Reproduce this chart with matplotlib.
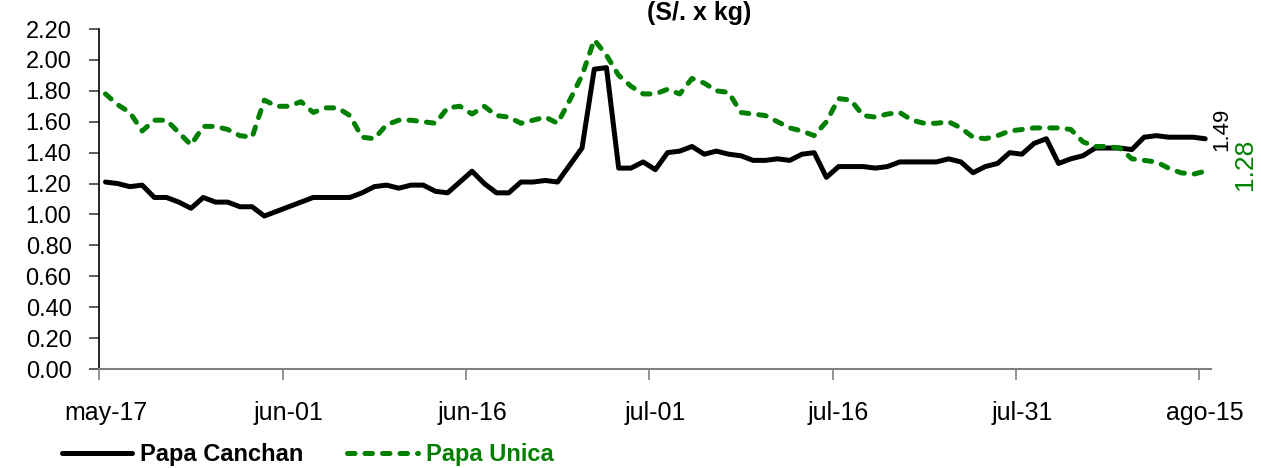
import numpy as np
import matplotlib
matplotlib.use('Agg')
import matplotlib.pyplot as plt

plt.rcParams['font.family'] = ['Liberation Sans', 'DejaVu Sans']

# daily prices, may-17 to ago-15
canchan = [1.21, 1.20, 1.18, 1.19, 1.11, 1.11, 1.08, 1.04, 1.11, 1.08,
           1.08, 1.05, 1.05, 0.99, 1.02, 1.05, 1.08, 1.11, 1.11, 1.11,
           1.11, 1.14, 1.18, 1.19, 1.17, 1.19, 1.19, 1.15, 1.14, 1.21,
           1.28, 1.20, 1.14, 1.14, 1.21, 1.21, 1.22, 1.21, 1.32, 1.43,
           1.94, 1.95, 1.30, 1.30, 1.34, 1.29, 1.40, 1.41, 1.44, 1.39,
           1.41, 1.39, 1.38, 1.35, 1.35, 1.36, 1.35, 1.39, 1.40, 1.24,
           1.31, 1.31, 1.31, 1.30, 1.31, 1.34, 1.34, 1.34, 1.34, 1.36,
           1.34, 1.27, 1.31, 1.33, 1.40, 1.39, 1.46, 1.49, 1.33, 1.36,
           1.38, 1.43, 1.43, 1.43, 1.42, 1.50, 1.51, 1.50, 1.50, 1.50,
           1.49]
unica = [1.78, 1.71, 1.66, 1.54, 1.61, 1.61, 1.53, 1.45, 1.57, 1.57,
         1.55, 1.51, 1.50, 1.74, 1.70, 1.70, 1.73, 1.66, 1.69, 1.69,
         1.64, 1.50, 1.49, 1.58, 1.61, 1.61, 1.60, 1.59, 1.69, 1.70,
         1.65, 1.70, 1.64, 1.63, 1.59, 1.61, 1.63, 1.59, 1.74, 1.90,
         2.13, 2.03, 1.90, 1.83, 1.78, 1.78, 1.81, 1.78, 1.88, 1.85,
         1.80, 1.79, 1.66, 1.65, 1.64, 1.60, 1.56, 1.54, 1.51, 1.60,
         1.75, 1.74, 1.64, 1.63, 1.65, 1.66, 1.61, 1.59, 1.59, 1.60,
         1.56, 1.50, 1.49, 1.51, 1.54, 1.55, 1.56, 1.56, 1.56, 1.55,
         1.47, 1.44, 1.44, 1.43, 1.36, 1.35, 1.34, 1.30, 1.27, 1.26,
         1.28]
date_labels = ['may-17', 'jun-01', 'jun-16', 'jul-01', 'jul-16', 'jul-31', 'ago-15']
label_step = 15

days = np.arange(len(canchan))
green = '#008000'

fig = plt.figure(figsize=(12.61, 4.68), dpi=100)
ax = fig.add_axes([0.0788, 0.2115, 0.8818, 0.7265])

ax.plot(days, canchan, color='black', lw=3.6, solid_joinstyle='round',
        solid_capstyle='round', label='Papa Canchan')
ax.plot(days, unica, color=green, lw=3.6, linestyle=(0, (1.5, 2.0)),
        dash_capstyle='round', dash_joinstyle='round', label='Papa Unica')

ax.set_xlim(-0.5, len(days) - 0.5)
ax.set_ylim(0, 2.2)
ax.set_yticks(np.arange(0, 2.21, 0.2))
ax.set_yticklabels(['%.2f' % v for v in np.arange(0, 2.21, 0.2)], fontsize=17)
ax.tick_params(axis='y', length=7, width=1.2, color='#404040', pad=13)

# tick marks between days, labels on the days
pos = np.arange(len(date_labels)) * label_step
ax.set_xticks(pos - 0.5)
ax.set_xticklabels([])
ax.set_xticks(pos, minor=True)
ax.set_xticklabels(date_labels, minor=True, fontsize=18)
ax.tick_params(axis='x', which='major', length=8, width=1.2, color='#808080')
ax.tick_params(axis='x', which='minor', length=0, pad=23)

for s in ['top', 'right']:
    ax.spines[s].set_visible(False)
ax.spines['left'].set_color('black')
ax.spines['left'].set_linewidth(1.2)
ax.spines['bottom'].set_color('#808080')
ax.spines['bottom'].set_linewidth(1.5)

# end values
ax.annotate('%.2f' % canchan[-1], xy=(days[-1], canchan[-1]), xytext=(12, 7),
            textcoords='offset points', rotation=90, ha='center', va='center',
            fontsize=16, color='black', annotation_clip=False)
ax.annotate('%.2f' % unica[-1], xy=(days[-1], unica[-1]), xytext=(29, 5),
            textcoords='offset points', rotation=90, ha='center', va='center',
            fontsize=19, color=green, annotation_clip=False)

fig.text(699 / 1261, 1 - 20 / 468, '(S/. x kg)', ha='center', va='baseline',
         fontsize=18, fontweight='bold')

fig.legend(loc='center left', bbox_to_anchor=(62 / 1261, 1 - 455 / 468),
           ncol=2, frameon=False, borderpad=0, borderaxespad=0,
           handlelength=2.97, handletextpad=0.34, columnspacing=1.86,
           labelcolor=['black', green], prop={'weight': 'bold', 'size': 17})

fig.savefig('out.png', dpi=100)
